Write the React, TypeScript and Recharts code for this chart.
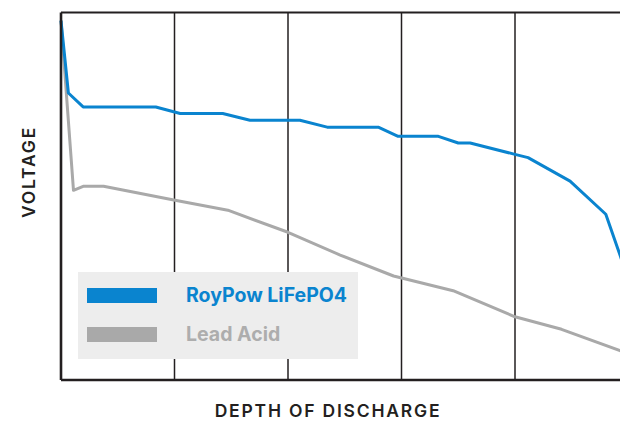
import { LineChart, Line, XAxis, YAxis, ReferenceLine } from 'recharts';

// depth of discharge (%) and relative voltage (0-100, axis carries no ticks)
const lifepoDod = [0, 1.3, 3.9, 16.7, 21, 28.5, 33.3, 42.1, 46.9, 55.9, 59.4, 66.5, 70, 72.1, 80, 82.3, 89.7, 96, 98.5, 100];
const lifepoVolt = [97.8, 78.1, 74.3, 74.3, 72.5, 72.5, 70.7, 70.7, 68.8, 68.8, 66.3, 66.3, 64.5, 64.5, 61.4, 60.5, 54.1, 45.1, 34, 27];

const leadDod = [0, 2.2, 3.9, 7.5, 20.1, 29.4, 40, 49.2, 58.6, 69.1, 80, 88.2, 98.5, 100];
const leadVolt = [97.8, 51.6, 52.7, 52.7, 48.9, 46.2, 40.2, 34, 28.3, 24.3, 17.2, 13.8, 8, 7.2];

const gridDod = [20, 40, 60, 80];

const lifepo = lifepoDod.map((d, i) => ({ dod: d, v: lifepoVolt[i] }));
const lead = leadDod.map((d, i) => ({ dod: d, v: leadVolt[i] }));

const BLUE = '#0a84cf';
const GRAY = '#a9a9a9';
const INK = '#231f20';
const FONT = 'Inter, "Noto Sans", sans-serif';

const series = [
  { name: 'RoyPow LiFePO4', color: BLUE, text: BLUE },
  { name: 'Lead Acid', color: GRAY, text: '#adadad' },
];

const titleStyle = {
  position: 'absolute' as const,
  fontFamily: FONT,
  fontWeight: 600,
  fontSize: 17.5,
  color: '#231f20',
  whiteSpace: 'nowrap' as const,
  letterSpacing: 1.8,
  lineHeight: 1,
};

export default function App() {
  return (
    <div style={{ position: 'absolute', left: 0, top: 0, width: 620, height: 421, overflow: 'hidden', background: '#fff' }}>
      <LineChart width={640} height={421} margin={{ top: 12.5, right: 11.5, left: 61, bottom: 41 }}>
        <XAxis type="number" dataKey="dod" domain={[0, 100]} hide allowDuplicatedCategory={false} />
        <YAxis type="number" dataKey="v" domain={[0, 100]} hide />
        {gridDod.map((d) => (
          <ReferenceLine key={d} x={d} stroke={INK} strokeWidth={1.5} />
        ))}
        <Line data={lead} dataKey="v" name="Lead Acid" stroke={GRAY} strokeWidth={3} dot={false} isAnimationActive={false} strokeLinejoin="round" />
        <Line data={lifepo} dataKey="v" name="RoyPow LiFePO4" stroke={BLUE} strokeWidth={3} dot={false} isAnimationActive={false} strokeLinejoin="round" />
        <ReferenceLine y={100} stroke={INK} strokeWidth={2.2} />
        <ReferenceLine x={0} stroke={INK} strokeWidth={2.6} />
        <ReferenceLine y={0} stroke={INK} strokeWidth={2.6} />
      </LineChart>

      <div style={{ position: 'absolute', left: 78, top: 272, width: 280, height: 87, background: '#ededed', boxSizing: 'border-box', paddingTop: 16 }}>
        {series.map((s, i) => (
          <div key={s.name} style={{ display: 'flex', alignItems: 'center', height: 15, marginTop: i ? 24 : 0 }}>
            <div style={{ width: 70, height: 15, background: s.color, marginLeft: 9 }} />
            <span style={{ marginLeft: 29, fontFamily: FONT, fontWeight: 700, fontSize: 19.5, color: s.text, lineHeight: '15px' }}>
              {s.name}
            </span>
          </div>
        ))}
      </div>

      <div style={{ ...titleStyle, left: 28.7, top: 171.5, transform: 'translate(-50%, -50%) rotate(-90deg)' }}>
        VOLTAGE
      </div>
      <div style={{ ...titleStyle, left: 328, top: 411, transform: 'translate(-50%, -50%)' }}>
        DEPTH OF DISCHARGE
      </div>
    </div>
  );
}
